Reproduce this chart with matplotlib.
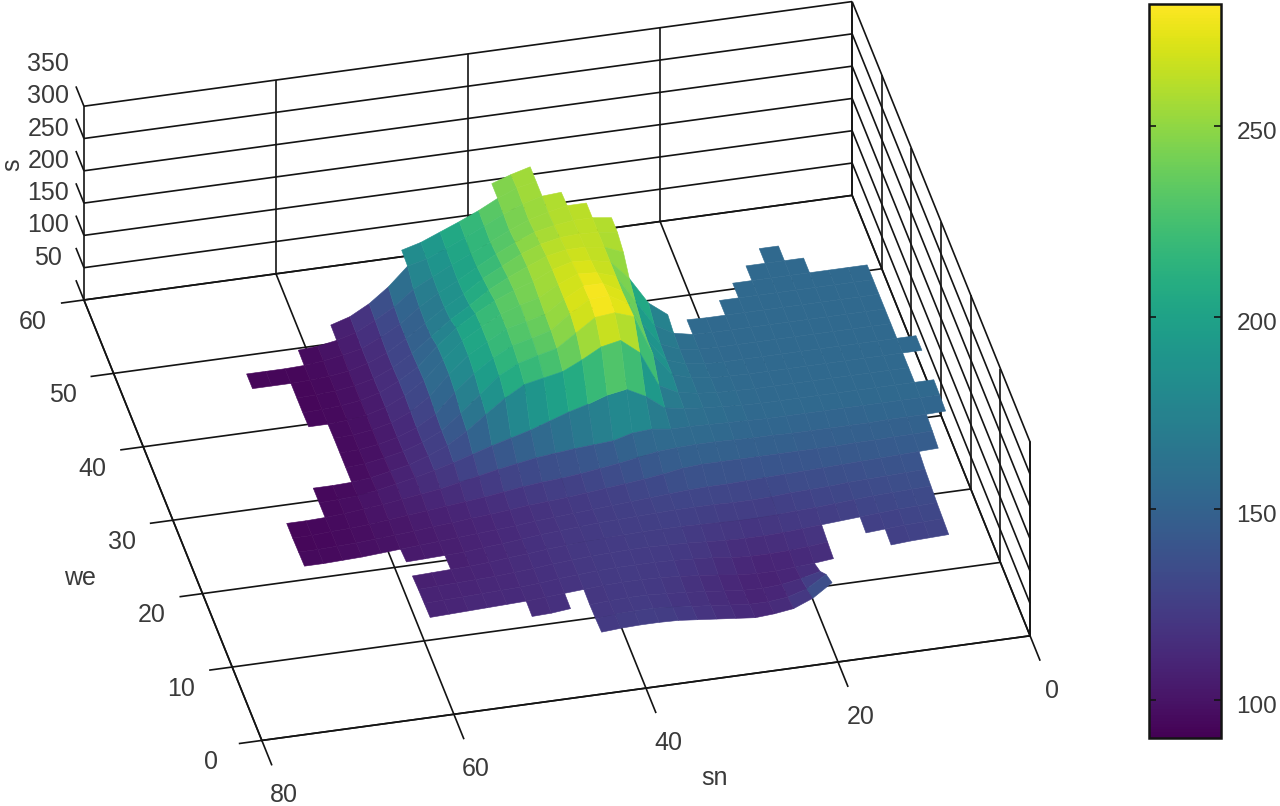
import numpy as np
import matplotlib
matplotlib.use("Agg")
import matplotlib.pyplot as plt
from matplotlib.cm import ScalarMappable
from matplotlib.colors import Normalize
from matplotlib.transforms import ScaledTranslation
from mpl_toolkits.mplot3d import proj3d
from mpl_toolkits.mplot3d.art3d import Poly3DCollection

plt.rcParams['font.family'] = ['Liberation Sans', 'DejaVu Sans']
TXT = '#3a3a3a'
LINE = '#141414'
_ = float('nan')

we_ticks = [0, 10, 20, 30, 40, 50, 60]
sn_ticks = [0, 20, 40, 60, 80]
s_ticks = [50, 100, 150, 200, 250, 300, 350]
cbar_ticks = [100, 150, 200, 250]
s_min, s_max = 90, 282

# surface heights: we -> (first sn, values every 2 units of sn)
s_rows = {
 2: (20, [150,130,118,114,112,115,118,121,124,125,125,124,122]),
 4: (20, [140,122,113,110,110,113,116,119,122,124,124,123,120]),
 6: (20, [122,115,110,108,109,112,115,118,120,122,122,121,119,117,114,113]),
 8: (6, [128,127,126,124,122,118,115,112,110,108,108,110,114,117,120,122,123,123,122,120,118,116,114,113,112,111,110,109]),
 10: (6, [130,129,128,126,124,120,118,115,113,112,112,114,118,120,122,123,123,123,122,120,118,115,113,112,111,110,109,108]),
 12: (6, [132,131,130,128,126,124,122,120,118,117,117,118,120,122,123,124,124,123,122,120,118,115,113,111,110,109,108,107]),
 14: (6, [135,134,133,132,130,128,126,125,123,122,122,123,124,125,125,125,124,123,122,120,118,115,113,110,108,107,106,105]),
 16: (6, [138,137,136,135,134,132,131,130,128,127,127,128,128,128,127,126,125,124,122,120,118,115,112,110,107,106,105,104]),
 18: (4, [144,143,142,141,140,139,138,137,136,135,134,133,133,132,130,128,126,124,122,120,118,116,113,111,109,107,105,103,101,99,97,96,95,95]),
 20: (4, [148,147,147,146,146,145,145,145,145,145,145,145,145,143,138,134,131,128,125,122,120,118,115,112,110,107,105,102,100,98,96,95,94,94]),
 22: (2, [152,151,151,151,150,150,150,150,150,151,151,152,153,153,152,150,145,140,136,132,129,127,124,120,116,113,110,107,104,101,98,96,95,93,93]),
 24: (2, [154,154,154,154,154,154,154,154,154,154,155,156,157,158,158,162,160,152,150,148,145,142,137,132,126,120,114,110,106,102,99,96,94,93,93]),
 26: (2, [155,155,155,155,155,155,155,155,155,155,156,158,160,163,168,190,205,200,190,182,172,162,154,146,137,128,120,113,107,101,97,95,94]),
 28: (4, [155,155,155,155,155,155,155,155,155,156,157,160,165,180,235,258,252,236,222,216,210,193,172,150,132,120,110,104,98,95,94,94]),
 30: (2, [155,155,155,155,155,155,155,155,155,155,156,157,161,170,205,268,278,275,255,235,228,220,205,180,155,132,118,108,102,97,95]),
 32: (2, [155,155,155,155,155,155,155,155,155,155,155,156,160,170,205,265,282,280,262,240,232,225,210,190,165,135,118,107,100,96,95]),
 34: (4, [155,155,155,155,155,155,155,155,155,155,156,160,172,210,262,278,278,262,242,235,228,212,195,170,140,120,107,100,96,95]),
 36: (4, [155,155,155,155,155,155,155,155,155,155,156,162,178,220,262,272,274,262,245,238,228,212,195,170,142,122,108,100,96,94,94]),
 38: (4, [155,155,155,155,155,155,155,155,155,155,156,168,190,232,262,268,270,262,248,238,226,210,192,168,140,122,108,100,96,94,93]),
 40: (4, [155,155,155,155,155,155,155,155,155,_,_,_,_,250,262,266,266,260,248,235,220,200,182,160,138,120,107,100,96,94,93]),
 42: (4, [155,155,155,155,155,155,155,155,_,_,_,_,_,258,262,264,262,256,245,230,215,195,178,158,138,120,108,100,96,94,93,93,93]),
 44: (10, [155,155,155,155,_,_,_,_,_,_,258,262,262,258,252,240,226,210,193,178,160,138,122,108,102,97,94,93,93,93]),
 46: (12, [155,155,_,_,_,_,_,_,_,_,262,262,256,248,236,222,208,195,180,165,142,125,110,102,97,95]),
 48: (34, [260,258,250,238,224,210,197,185,178,150,128,112,103]),
 50: (36, [258,252,240,225,212,200,188,180]),
 52: (36, [258,250,240]),
}

# where the surface exists: lower we of a 2-unit band -> sn intervals
bands = {
 2: [(20,44)], 4: [(20,44)], 6: [(20,44),(46,50)], 8: [(6,12),(18,60)],
 10: [(6,14),(18,60)], 12: [(6,60)], 14: [(6,56)], 16: [(6,60)],
 18: [(4,70)], 20: [(4,70)], 22: [(2,70)], 24: [(2,66)], 26: [(4,66)],
 28: [(4,62)], 30: [(2,62)], 32: [(4,62)], 34: [(4,62)],
 36: [(4,24),(26,64)], 38: [(4,20),(30,64)], 40: [(4,18),(30,64)],
 42: [(10,16),(30,68)], 44: [(12,14),(32,62)], 46: [(34,58)],
 48: [(36,50)], 50: [(36,40)],
}

def height(we, sn):
    first, vals = s_rows[we]
    i = (sn - first) // 2
    return vals[i] if 0 <= i < len(vals) and (sn - first) >= 0 else _

polys, cell_s = [], []
for w0, ivs in bands.items():
    for a, b in ivs:
        for sn in range(a, b, 2):
            c = [(w0, sn), (w0 + 2, sn), (w0 + 2, sn + 2), (w0, sn + 2)]
            h = [height(*p) for p in c]
            if np.all(np.isfinite(h)):
                polys.append([(p[0], p[1], v) for p, v in zip(c, h)])
                cell_s.append(np.mean(h))

W, H = 1280, 806
fig = plt.figure(figsize=(12.8, 8.06), dpi=100, facecolor='white')
side = 1101
cx, cy = 557, 371
frac = 0.95 / 1.85
ax = fig.add_axes([(cx - frac * side) / W, (H - cy - frac * side) / H, side / W, side / H],
                  projection='3d', proj_type='ortho')
ax.patch.set_alpha(0)
ax.view_init(elev=35.5, azim=166.8)
ax.set_box_aspect((779, 789, 238))

norm = Normalize(s_min, s_max)
cols = plt.get_cmap('viridis')(norm(np.array(cell_s)))
coll = Poly3DCollection(polys, facecolors=cols, edgecolors=cols, linewidths=0.4)
ax.add_collection3d(coll)

ax.set_xticks([])
ax.set_yticks([])
ax.set_zticks([])
for axis in (ax.xaxis, ax.yaxis, ax.zaxis):
    axis.set_pane_color((1, 1, 1, 0))
    axis.pane.set_edgecolor(LINE)
    axis.line.set_color(LINE)
    axis.line.set_linewidth(1.2)

FS = 18
z0, z1 = s_ticks[0], s_ticks[-1]
line_kw = dict(color=LINE, lw=1.2, solid_capstyle='butt')
for t in we_ticks:
    ax.plot([t, t], [0, 82.4], [z0, z0], **line_kw)      # floor and tick
    ax.plot([t, t], [0, 0], [z0, z1], **line_kw)         # wall at sn = 0
for t in sn_ticks:
    ax.plot([-3.4, 60], [t, t], [z0, z0], **line_kw)     # floor and tick
    ax.plot([60, 60], [t, t], [z0, z1], **line_kw)       # wall at we = 60
for t in s_ticks:
    ax.plot([60, 62.7], [80, 80], [t, t], **line_kw)     # tick
    ax.plot([0, 60], [0, 0], [t, t], **line_kw)          # wall at sn = 0
    ax.plot([60, 60], [0, 80], [t, t], **line_kw)        # wall at we = 60

ax.set_xlim(0, 60, view_margin=0)
ax.set_ylim(0, 80, view_margin=0)
ax.set_zlim(50, 350, view_margin=0)

M = ax.get_proj()
def tick_label(we, sn, s, text):
    x2, y2, _z = proj3d.proj_transform(we, sn, s, M)
    ax.text2D(x2, y2, text, transform=ax.transData, fontsize=FS, color=TXT,
              ha='center', va='center')

for t in we_ticks:
    tick_label(t, 85.3, 27, str(t))
for t in sn_ticks:
    tick_label(-7.5, t, 50, str(t))
for t in s_ticks:
    tick_label(65.5, 82, t + 7, str(t))

fig.text(12 / W, 1 - 165 / H, 's', rotation=90, fontsize=FS, color=TXT, ha='center', va='center')
fig.text(80 / W, 1 - 578 / H, 'we', fontsize=FS, color=TXT, ha='center', va='center')
fig.text(715 / W, 1 - 778 / H, 'sn', fontsize=FS, color=TXT, ha='center', va='center')

cax = fig.add_axes([1149 / W, 1 - 738 / H, 72 / W, 734 / H])
cb = fig.colorbar(ScalarMappable(norm=norm, cmap='viridis'), cax=cax, ticks=cbar_ticks)
cb.ax.tick_params(direction='in', length=5, width=1.2, color=LINE, labelsize=17.5,
                  labelcolor=TXT, pad=11, left=True, right=True)
cb.outline.set_linewidth(1.8)
cb.outline.set_edgecolor(LINE)
down = ScaledTranslation(0, -4.5 / 100, fig.dpi_scale_trans)
for lab in cb.ax.get_yticklabels():
    lab.set_transform(lab.get_transform() + down)

fig.savefig('out.png', dpi=100)
